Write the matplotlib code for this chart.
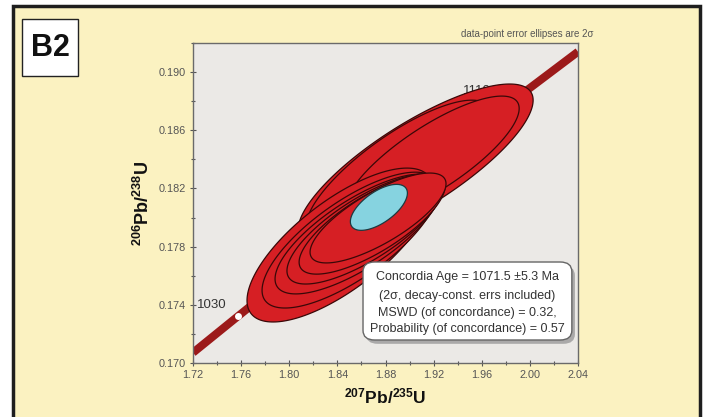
import numpy as np
import matplotlib
matplotlib.use("Agg")
import matplotlib.pyplot as plt
from matplotlib.patches import Rectangle, FancyBboxPatch

plt.rcParams['font.family'] = ['Liberation Sans', 'DejaVu Sans']
plt.rcParams['mathtext.fontset'] = 'custom'
plt.rcParams['mathtext.rm'] = 'Liberation Sans'
plt.rcParams['mathtext.bf'] = 'Liberation Sans:bold'

# concordia curve points (207Pb/235U, 206Pb/238U)
conc_x = [1.72, 1.80, 1.88, 1.96, 2.04]
conc_y = [0.17071, 0.17607, 0.18130, 0.18641, 0.19140]

# age markers
age_labels = ['1030', '1110']
age_x = [1.7577, 1.9837]
age_y = [0.17326, 0.18791]

# data-point ellipses: centre, 2-sigma half extents, error correlation
ell_x = [1.9050, 1.8905, 1.9188, 1.8422, 1.8506, 1.8572, 1.8630, 1.8689, 1.8738]
ell_y = [0.18361, 0.18326, 0.18409, 0.17811, 0.17845, 0.17887, 0.17921, 0.17955, 0.17997]
ell_sx = [0.0977, 0.0765, 0.0723, 0.0773, 0.0732, 0.0690, 0.0649, 0.0607, 0.0565]
ell_sy = [0.00557, 0.00481, 0.00426, 0.00529, 0.00467, 0.00412, 0.00378, 0.00344, 0.00309]
ell_rho = [0.80, 0.80, 0.80, 0.72, 0.74, 0.75, 0.76, 0.76, 0.76]

# concordia age ellipse
age_ell = (1.8745, 0.1807, 0.0237, 0.00158, 0.62)

stats_lines = ['Concordia Age = 1071.5 \u00b15.3 Ma',
               '(2\u03c3, decay-const. errs included)',
               'MSWD (of concordance) = 0.32,',
               'Probability (of concordance) = 0.57']


def ellipse_xy(cx, cy, sx, sy, rho, n=200):
    t = np.linspace(0, 2 * np.pi, n)
    x = cx + sx * np.cos(t)
    y = cy + sy * (rho * np.cos(t) + np.sqrt(1 - rho ** 2) * np.sin(t))
    return x, y


fig = plt.figure(figsize=(7.08, 4.17), dpi=100, facecolor='white')

# yellow frame
fig.add_artist(Rectangle((13 / 708, -0.05), 687 / 708, 1.05 - 6 / 417,
                         transform=fig.transFigure, facecolor='#fbf2c1',
                         edgecolor='#1e1e1e', lw=2.5, zorder=0))
# B2 box
fig.add_artist(Rectangle((22 / 708, 1 - 76 / 417), 56 / 708, 57 / 417,
                         transform=fig.transFigure, facecolor='white',
                         edgecolor='#222222', lw=1.0, zorder=1))
fig.text(50 / 708, 1 - 48 / 417, 'B2', ha='center', va='center',
         fontsize=22, fontweight='bold', color='#111111', zorder=2)

ax = fig.add_axes([193 / 708, 1 - 363 / 417, 385 / 708, 320 / 417])
ax.set_facecolor('#ebe9e6')
ax.set_xlim(1.72, 2.04)
ax.set_ylim(0.170, 0.192)

ax.plot(conc_x, conc_y, color='#9c1a1a', lw=5.8, solid_capstyle='butt', zorder=1)
ax.plot(age_x[0], age_y[0], 'o', color='white', ms=5, mec='none', zorder=2)
ax.text(1.7235, 0.1740, age_labels[0], fontsize=9.5, color='#333333',
        ha='left', va='center', zorder=2)
ax.text(1.9445, 0.1887, age_labels[1], fontsize=9.5, color='#333333',
        ha='left', va='center', zorder=2)

for i in range(len(ell_x)):
    x, y = ellipse_xy(ell_x[i], ell_y[i], ell_sx[i], ell_sy[i], ell_rho[i])
    ax.fill(x, y, facecolor='#d61f24', edgecolor='#3a0808', lw=0.9, zorder=3 + i)

x, y = ellipse_xy(*age_ell)
ax.fill(x, y, facecolor='#86d3e0', edgecolor='#1d3a40', lw=0.9, zorder=20)

# statistics box with shadow
shadow = FancyBboxPatch((0.4416 + 0.008, 0.0719 - 0.012), 0.5424, 0.2437,
                        boxstyle='round,pad=0,rounding_size=0.03',
                        transform=ax.transAxes, facecolor='#9a9a9a',
                        edgecolor='none', zorder=21, alpha=0.8)
box = FancyBboxPatch((0.4416, 0.0719), 0.5424, 0.2437,
                     boxstyle='round,pad=0,rounding_size=0.03',
                     transform=ax.transAxes, facecolor='white',
                     edgecolor='#666666', lw=1.0, zorder=22)
ax.add_patch(shadow)
ax.add_patch(box)
for line, yy in zip(stats_lines, [0.269, 0.209, 0.156, 0.106]):
    ax.text(0.7128, yy, line, transform=ax.transAxes, ha='center', va='center',
            fontsize=9, color='#333333', zorder=23)

ax.set_xticks(np.arange(1.72, 2.041, 0.04))
ax.set_xticks(np.arange(1.72, 2.041, 0.02), minor=True)
ax.set_yticks(np.arange(0.170, 0.1901, 0.004))
ax.set_yticks(np.arange(0.170, 0.1921, 0.002), minor=True)
ax.set_xticklabels([f'{v:.2f}' for v in np.arange(1.72, 2.041, 0.04)])
ax.set_yticklabels([f'{v:.3f}' for v in np.arange(0.170, 0.1901, 0.004)])
ax.tick_params(which='both', direction='inout', length=4, width=0.8,
               color='#555555', labelsize=7.8, labelcolor='#555555', pad=3)
ax.tick_params(which='minor', length=3)
for s in ax.spines.values():
    s.set_color('#6a6a6a')
    s.set_linewidth(1.0)

ax.set_xlabel(r'$\mathbf{^{207}Pb/^{235}U}$', fontsize=12.5, color='#111111', labelpad=5)
ax.set_ylabel(r'$\mathbf{^{206}Pb/^{238}U}$', fontsize=13, color='#111111', labelpad=4)

ax.text(0.868, 1.012, 'data-point error ellipses are 2\u03c3', transform=ax.transAxes,
        ha='center', va='bottom', fontsize=7, color='#555555')

fig.savefig('out.png', dpi=100)
